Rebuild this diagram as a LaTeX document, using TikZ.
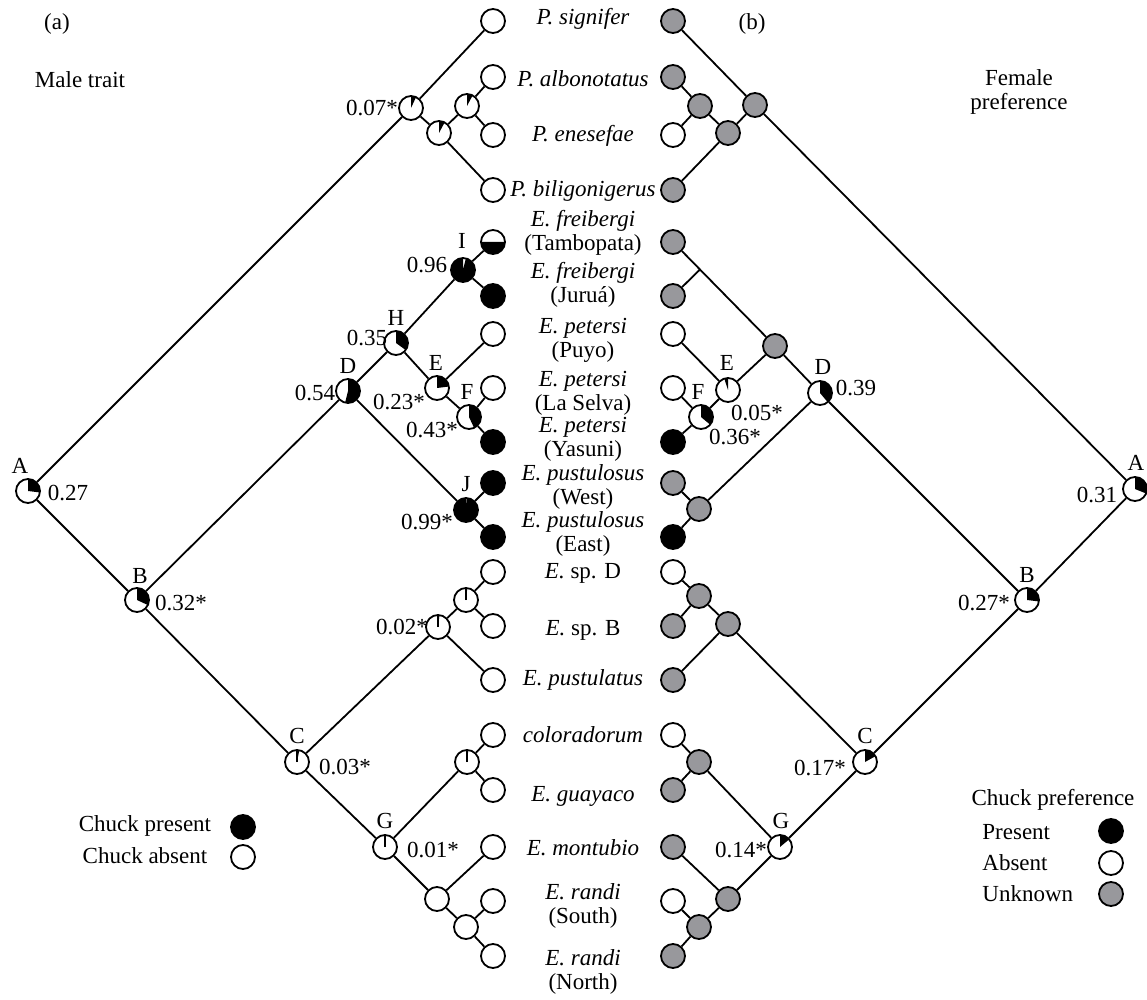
\documentclass[tikz,border=0pt]{standalone}
\usepackage{fontspec}
\setmainfont{Liberation Serif}
\usetikzlibrary{backgrounds}
\definecolor{gry}{RGB}{152,152,156}
\tikzset{
 nd/.style={circle, draw=black, line width=0.9pt, minimum size=12pt, inner sep=0pt, fill=white},
 gn/.style={nd, fill=gry},
 bn/.style={nd, fill=black},
 br/.style={line width=0.9pt},
 tx/.style={font=\fontsize{11.5}{12}\selectfont, inner sep=0pt, align=center},
}
\newcommand\wdg[3]{\fill (#1.center) -- ([shift={(#2:6pt)}]#1.center) arc[start angle=#2, end angle=#3, radius=6pt] -- cycle;}
\newcommand\tck[1]{\draw[line width=0.7pt] (#1.center) -- ([yshift=6pt]#1.center);}
\begin{document}
\begin{tikzpicture}[x=0.5pt,y=-0.5pt]
\useasboundingbox (0,0) rectangle (1147,1000);
% ---------- left tips
\node[nd] (L1) at (493,21) {};
\node[nd] (L2) at (493,77) {};
\node[nd] (L3) at (493,135) {};
\node[nd] (L4) at (493,190) {};
\node[nd] (L5) at (493,242) {};
\node[bn] (L6) at (493,296) {};
\node[nd] (L7) at (493,334) {};
\node[nd] (L8) at (493,388) {};
\node[bn] (L9) at (493,442) {};
\node[bn] (L10) at (493,483) {};
\node[bn] (L11) at (493,537) {};
\node[nd] (L12) at (493,572) {};
\node[nd] (L13) at (493,626) {};
\node[nd] (L14) at (493,680) {};
\node[nd] (L15) at (493,735) {};
\node[nd] (L16) at (493,790) {};
\node[nd] (L17) at (493,847) {};
\node[nd] (L18) at (493,901) {};
\node[nd] (L19) at (493,956) {};
% ---------- right tips
\node[gn] (R1) at (673,21) {};
\node[gn] (R2) at (673,77) {};
\node[nd] (R3) at (673,135) {};
\node[gn] (R4) at (673,190) {};
\node[gn] (R5) at (673,242) {};
\node[gn] (R6) at (673,296) {};
\node[nd] (R7) at (673,334) {};
\node[nd] (R8) at (673,388) {};
\node[bn] (R9) at (673,442) {};
\node[gn] (R10) at (673,483) {};
\node[bn] (R11) at (673,537) {};
\node[nd] (R12) at (673,572) {};
\node[gn] (R13) at (673,626) {};
\node[gn] (R14) at (673,680) {};
\node[nd] (R15) at (673,735) {};
\node[gn] (R16) at (673,790) {};
\node[gn] (R17) at (673,847) {};
\node[nd] (R18) at (673,901) {};
\node[gn] (R19) at (673,956) {};
% ---------- left internal
\node[nd] (aL) at (28,491) {};
\node[nd] (p7) at (411,108) {};
\node[nd] (p7b) at (439,133) {};
\node[nd] (p7c) at (467,106) {};
\node[nd] (bL) at (137,600) {};
\node[nd] (dL) at (348,391) {};
\node[nd] (hL) at (396,343) {};
\node[nd] (iL) at (463,270) {};
\node[nd] (eL) at (437,388) {};
\node[nd] (fL) at (469,417) {};
\node[nd] (jL) at (466,510) {};
\node[nd] (cL) at (297,762) {};
\node[nd] (s1L) at (438,627) {};
\node[nd] (s2L) at (466,600) {};
\node[nd] (gL) at (385,847) {};
\node[nd] (k1L) at (467,762) {};
\node[nd] (r1L) at (437,899) {};
\node[nd] (r2L) at (466,927) {};
% ---------- right internal
\node[nd] (aR) at (1135,489) {};
\node[gn] (q3) at (755,105) {};
\node[gn] (q2) at (728,133) {};
\node[gn] (q1) at (700,106) {};
\node[nd] (bR) at (1027,600) {};
\node[nd] (dR) at (820,393) {};
\node[gn] (duR) at (775,346) {};
\coordinate (jx) at (700,269.5);
\node[nd] (eR) at (728,390) {};
\node[nd] (fR) at (701,417) {};
\node[gn] (jR) at (699,509) {};
\node[nd] (cR) at (865,762) {};
\node[gn] (s2R) at (728,624) {};
\node[gn] (s1R) at (699,596) {};
\node[nd] (gR) at (780,847) {};
\node[gn] (kR) at (699,762) {};
\node[gn] (r1R) at (728,899) {};
\node[gn] (r2R) at (699,927) {};
% ---------- branches
\begin{scope}[on background layer]
\draw[br] (aL) -- (p7); \draw[br] (aL) -- (bL);
\draw[br] (p7) -- (L1); \draw[br] (p7) -- (p7b);
\draw[br] (p7b) -- (p7c); \draw[br] (p7b) -- (L4);
\draw[br] (p7c) -- (L2); \draw[br] (p7c) -- (L3);
\draw[br] (bL) -- (dL); \draw[br] (bL) -- (cL);
\draw[br] (dL) -- (hL); \draw[br] (dL) -- (jL);
\draw[br] (hL) -- (iL); \draw[br] (hL) -- (eL);
\draw[br] (iL) -- (L5); \draw[br] (iL) -- (L6);
\draw[br] (eL) -- (L7); \draw[br] (eL) -- (fL);
\draw[br] (fL) -- (L8); \draw[br] (fL) -- (L9);
\draw[br] (jL) -- (L10); \draw[br] (jL) -- (L11);
\draw[br] (cL) -- (s1L); \draw[br] (cL) -- (gL);
\draw[br] (s1L) -- (s2L); \draw[br] (s1L) -- (L14);
\draw[br] (s2L) -- (L12); \draw[br] (s2L) -- (L13);
\draw[br] (gL) -- (k1L); \draw[br] (gL) -- (r1L);
\draw[br] (k1L) -- (L15); \draw[br] (k1L) -- (L16);
\draw[br] (r1L) -- (L17); \draw[br] (r1L) -- (r2L);
\draw[br] (r2L) -- (L18); \draw[br] (r2L) -- (L19);
% right
\draw[br] (aR) -- (q3); \draw[br] (aR) -- (bR);
\draw[br] (q3) -- (R1); \draw[br] (q3) -- (q2);
\draw[br] (q2) -- (q1); \draw[br] (q2) -- (R4);
\draw[br] (q1) -- (R2); \draw[br] (q1) -- (R3);
\draw[br] (bR) -- (dR); \draw[br] (bR) -- (cR);
\draw[br] (dR) -- (duR); \draw[br] (dR) -- (jR);
\draw[br] (duR) -- (R5); \draw[br] (R6) -- (jx);
\draw[br] (duR) -- (eR);
\draw[br] (eR) -- (R7); \draw[br] (eR) -- (fR);
\draw[br] (fR) -- (R8); \draw[br] (fR) -- (R9);
\draw[br] (jR) -- (R10); \draw[br] (jR) -- (R11);
\draw[br] (cR) -- (s2R); \draw[br] (cR) -- (gR);
\draw[br] (s2R) -- (s1R); \draw[br] (s2R) -- (R14);
\draw[br] (s1R) -- (R12); \draw[br] (s1R) -- (R13);
\draw[br] (gR) -- (kR); \draw[br] (gR) -- (r1R);
\draw[br] (kR) -- (R15); \draw[br] (kR) -- (R16);
\draw[br] (r1R) -- (R17); \draw[br] (r1R) -- (r2R);
\draw[br] (r2R) -- (R18); \draw[br] (r2R) -- (R19);
\end{scope}
% ---------- pies
\begin{scope}[x=1pt,y=1pt]
\wdg{aL}{90}{-7}
\wdg{bL}{90}{-25}
\wdg{cL}{90}{79}\tck{cL}
\wdg{gL}{90}{86}\tck{gL}
\wdg{p7}{90}{65}
\wdg{p7b}{90}{62}
\wdg{p7c}{90}{62}
\wdg{dL}{90}{-104}
\wdg{hL}{90}{-36}
\wdg{iL}{76}{-270}
\wdg{eL}{90}{7}
\wdg{fL}{90}{-65}
\wdg{jL}{86}{-270}
\wdg{s1L}{90}{83}\tck{s1L}
\wdg{s2L}{90}{84}\tck{s2L}
\wdg{k1L}{90}{84}\tck{k1L}
\wdg{L5}{180}{360}
\wdg{aR}{90}{-22}
\wdg{bR}{90}{-7}
\wdg{cR}{90}{29}
\wdg{gR}{90}{40}
\wdg{dR}{90}{-50}
\wdg{eR}{90}{108}
\wdg{fR}{90}{-40}
\end{scope}
% ---------- species names
\node[tx] (t1) at (583,19) {\textit{P. signifer}};
\node[tx] (t2) at (583,79) {\textit{P. albonotatus}};
\node[tx] (t3) at (583,136) {\textit{P. enesefae}};
\node[tx] (t4) at (583,191) {\textit{P. biligonigerus}};
\node[tx] (t5) at (583,233) {\textit{E. freibergi}\\(Tambopata)};
\node[tx] (t6) at (583,285) {\textit{E. freibergi}\\(Juruá)};
\node[tx] (t7) at (583,340) {\textit{E. petersi}\\(Puyo)};
\node[tx] (t8) at (583,393) {\textit{E. petersi}\\(La Selva)};
\node[tx] (t9) at (583,439) {\textit{E. petersi}\\(Yasuni)};
\node[tx] (t10) at (583,487) {\textit{E. pustulosus}\\(West)};
\node[tx] (t11) at (583,534) {\textit{E. pustulosus}\\(East)};
\node[tx] (t12) at (583,573) {\textit{E.} sp. D};
\node[tx] (t13) at (583,630) {\textit{E.} sp. B};
\node[tx] (t14) at (583,680) {\textit{E. pustulatus}};
\node[tx] (t15) at (583,735) {\textit{coloradorum}};
\node[tx] (t16) at (583,796) {\textit{E. guayaco}};
\node[tx] (t17) at (583,848) {\textit{E. montubio}};
\node[tx] (t18) at (583,906) {\textit{E. randi}\\(South)};
\node[tx] (t19) at (583,972) {\textit{E. randi}\\(North)};
% ---------- node letters and values, left
\node[tx] (laA) at (20,466) {A};
\node[tx] (lvA) at (68,493) {0.27};
\node[tx] (laB) at (140,576) {B};
\node[tx] (lvB) at (181,603) {0.32*};
\node[tx] (laC) at (297,736) {C};
\node[tx] (lvC) at (345,767) {0.03*};
\node[tx] (laG) at (385,821) {G};
\node[tx] (lvG) at (433,850) {0.01*};
\node[tx] (lvP) at (372,108) {0.07*};
\node[tx] (laD) at (348,366) {D};
\node[tx] (lvD) at (315,393) {0.54};
\node[tx] (laH) at (396,318) {H};
\node[tx] (lvH) at (367,338) {0.35};
\node[tx] (laI) at (462,241) {I};
\node[tx] (lvI) at (427,265) {0.96};
\node[tx] (laE) at (436,363) {E};
\node[tx] (lvE) at (399,402) {0.23*};
\node[tx] (laF) at (467,392) {F};
\node[tx] (lvF) at (432,430) {0.43*};
\node[tx] (laJ) at (466,484) {J};
\node[tx] (lvJ) at (427,522) {0.99*};
\node[tx] (lvS) at (402,627) {0.02*};
% ---------- node letters and values, right
\node[tx] (raA) at (1136,463) {A};
\node[tx] (rvA) at (1097,495) {0.31};
\node[tx] (raB) at (1027,575) {B};
\node[tx] (rvB) at (984,603) {0.27*};
\node[tx] (raC) at (865,736) {C};
\node[tx] (rvC) at (820,768) {0.17*};
\node[tx] (raG) at (781,821) {G};
\node[tx] (rvG) at (741,850) {0.14*};
\node[tx] (raD) at (823,367) {D};
\node[tx] (rvD) at (856,388) {0.39};
\node[tx] (raE) at (727,363) {E};
\node[tx] (rvE) at (757,413) {0.05*};
\node[tx] (raF) at (698,392) {F};
\node[tx] (rvF) at (735,437) {0.36*};
% ---------- headings
\node[tx] (ha) at (57,24) {(a)};
\node[tx] (hm) at (80,80) {Male trait};
\node[tx] (hb) at (752,24) {(b)};
\node[tx] (hf) at (1019,92) {Female\\preference};
% ---------- legends
\node[tx] (lg1) at (145,826) {Chuck present};
\node[bn] (lc1) at (243,827) {};
\node[tx] (lg2) at (145,856) {Chuck absent};
\node[nd] (lc2) at (243,857) {};
\node[tx] (lg3) at (1053,800) {Chuck preference};
\node[tx,anchor=west] (lg4) at (982,832) {Present};
\node[bn] (lc4) at (1111,831) {};
\node[tx,anchor=west] (lg5) at (982,863) {Absent};
\node[nd] (lc5) at (1111,863) {};
\node[tx,anchor=west] (lg6) at (982,894) {Unknown};
\node[gn] (lc6) at (1111,894) {};
\end{tikzpicture}
\end{document}
